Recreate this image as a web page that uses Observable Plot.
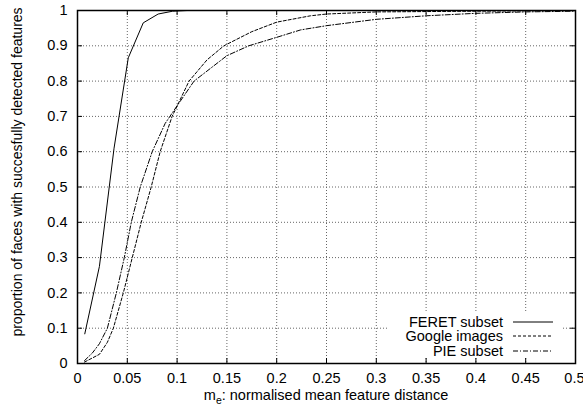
<!DOCTYPE html>
<html><head><meta charset="utf-8">
<script src="https://cdn.jsdelivr.net/npm/d3@7"></script>
<script src="https://cdn.jsdelivr.net/npm/@observablehq/plot@0.6"></script>
<style>
body{margin:0;background:#fff;}
#wrap{position:relative;width:583px;height:414px;font-family:"Liberation Sans",Arial,sans-serif;}
#legend{position:absolute;left:387px;top:313px;width:175px;height:44px;background:#fff;font-size:14.5px;color:#000;}
.row{display:flex;align-items:center;height:14.5px;}
.row span{width:116px;text-align:right;white-space:nowrap;}
.row svg{margin-left:10px;display:block;}
</style></head><body><div id="wrap"></div>
<script>
// ---- data ----
const seriesNames = ["FERET subset", "Google images", "PIE subset"];
const feretX = [0.0073, 0.022, 0.0367, 0.051, 0.066, 0.081, 0.0955, 0.11, 0.2, 0.3, 0.4, 0.5];
const feretY = [0.084, 0.275, 0.61, 0.866, 0.965, 0.99, 0.998, 1, 1, 1, 1, 1];
const googleX = [0.007, 0.022, 0.03, 0.036, 0.046, 0.055, 0.064, 0.074, 0.083, 0.095, 0.112, 0.13, 0.147, 0.175, 0.2, 0.234, 0.25, 0.3, 0.35, 0.4, 0.45, 0.5];
const googleY = [0.004, 0.026, 0.06, 0.10, 0.20, 0.30, 0.40, 0.50, 0.60, 0.70, 0.80, 0.86, 0.90, 0.94, 0.967, 0.985, 0.99, 0.996, 0.997, 0.998, 0.999, 1.0];
const pieX = [0.007, 0.015, 0.022, 0.030, 0.039, 0.047, 0.054, 0.063, 0.075, 0.088, 0.1, 0.117, 0.15, 0.172, 0.2, 0.224, 0.25, 0.3, 0.35, 0.4, 0.45, 0.5];
const pieY = [0.008, 0.03, 0.056, 0.10, 0.20, 0.30, 0.40, 0.50, 0.60, 0.68, 0.73, 0.80, 0.872, 0.90, 0.924, 0.945, 0.957, 0.975, 0.985, 0.992, 0.996, 0.998];
const xTicks = [0, 0.05, 0.1, 0.15, 0.2, 0.25, 0.3, 0.35, 0.4, 0.45, 0.5];
const yTicks = [0, 0.1, 0.2, 0.3, 0.4, 0.5, 0.6, 0.7, 0.8, 0.9, 1];
const xTitle = ["m", "e", ": normalised mean feature distance"];
const yTitle = "proportion of faces with succesfully detected features";

// ---- build ----
const dashes = ["none", "3,2", "5,2,1,2"];
const toRows = (xs, ys) => xs.map((x, i) => ({x, y: ys[i]}));
const series = [toRows(feretX, feretY), toRows(googleX, googleY), toRows(pieX, pieY)];

const W = 583, H = 414, mt = 10, mr = 8, mb = 51, ml = 77;
const ph = H - mt - mb, pw = W - ml - mr, tl = 5;
const fmt = d3.format("~g");
const font = "Liberation Sans, Arial, sans-serif";

const plot = Plot.plot({
  width: W, height: H,
  marginTop: mt, marginRight: mr, marginBottom: mb, marginLeft: ml,
  style: {fontFamily: font, fontSize: "14.5px", background: "white", color: "black", overflow: "visible"},
  x: {domain: [0, 0.5], label: null},
  y: {domain: [0, 1], label: null},
  marks: [
    Plot.gridX(xTicks, {stroke: "#666", strokeOpacity: 1, strokeDasharray: "1,2"}),
    Plot.gridY(yTicks, {stroke: "#666", strokeOpacity: 1, strokeDasharray: "1,2"}),
    ...series.map((rows, i) => Plot.line(rows, {x: "x", y: "y", stroke: "black", strokeWidth: 1, strokeDasharray: dashes[i]})),
    Plot.tickX(xTicks, {x: d => d, insetTop: ph - tl, stroke: "black"}),
    Plot.tickX(xTicks, {x: d => d, insetBottom: ph - tl, stroke: "black"}),
    Plot.tickY(yTicks, {y: d => d, insetRight: pw - tl, stroke: "black"}),
    Plot.tickY(yTicks, {y: d => d, insetLeft: pw - tl, stroke: "black"}),
    Plot.axisX(xTicks, {tickSize: 0, tickPadding: 9, tickFormat: fmt, label: null}),
    Plot.axisY(yTicks, {tickSize: 0, tickPadding: 10, tickFormat: fmt, label: null}),
    Plot.frame({stroke: "black", strokeWidth: 1.5})
  ]
});

const svg = d3.select(plot);
// keep the last x tick label ("0.5") inside the picture
const xLabels = svg.selectAll("[aria-label='x-axis tick label'] text").nodes();
if (xLabels.length) d3.select(xLabels[xLabels.length - 1]).attr("text-anchor", "end").attr("dx", 9);

const xt = svg.append("text")
  .attr("x", ml + pw / 2).attr("y", 400)
  .attr("text-anchor", "middle").attr("font-family", font).attr("font-size", 14.5).attr("fill", "black");
xt.append("tspan").text(xTitle[0]);
xt.append("tspan").attr("dy", 4).attr("font-size", 10.5).text(xTitle[1]);
xt.append("tspan").attr("dy", -4).text(xTitle[2]);
svg.append("text")
  .attr("transform", "translate(22,172) rotate(-90)")
  .attr("text-anchor", "middle").attr("font-family", font).attr("font-size", 14).attr("fill", "black")
  .text(yTitle);

const wrap = document.getElementById("wrap");
wrap.appendChild(plot);

// legend
const legend = document.createElement("div");
legend.id = "legend";
legend.style.paddingTop = "1.5px";
legend.style.boxSizing = "border-box";
seriesNames.forEach((name, i) => {
  const row = document.createElement("div");
  row.className = "row";
  const s = document.createElement("span");
  s.textContent = name;
  row.appendChild(s);
  const ls = d3.create("svg").attr("width", 40).attr("height", 6);
  ls.append("line").attr("x1", 0).attr("x2", 40).attr("y1", 3).attr("y2", 3)
    .attr("stroke", "black").attr("stroke-width", 1).attr("stroke-dasharray", dashes[i]);
  row.appendChild(ls.node());
  legend.appendChild(row);
});
wrap.appendChild(legend);
</script>
</body></html>
